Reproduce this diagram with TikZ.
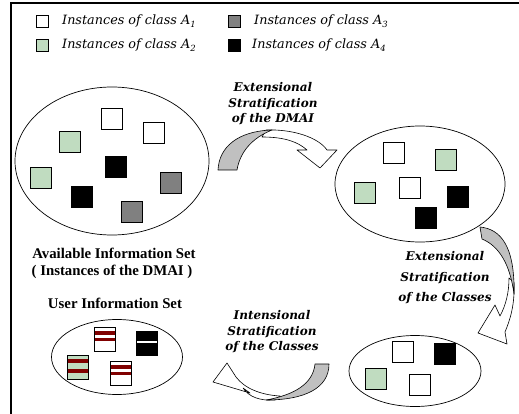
\documentclass[tikz,border=0pt]{standalone}
\usepackage{fontspec}
\setmainfont{DejaVu Serif}
\newfontfamily\capfont{Liberation Serif}
\usetikzlibrary{shapes.geometric}
\definecolor{grn}{HTML}{C0DCC0}
\definecolor{dgray}{HTML}{808080}
\definecolor{agray}{HTML}{C0C0C0}
\definecolor{dred}{HTML}{800000}
\newcommand\lsub[1]{\raisebox{-0.4ex}{\fontsize{8.5}{8.5}\selectfont #1}}
\begin{document}
\begin{tikzpicture}[x=1pt,y=-1pt,
  sq/.style={draw=black,line width=0.8pt,minimum width=21pt,minimum height=21pt,inner sep=0pt,outer sep=0pt},
  wsq/.style={sq,fill=white},
  gsq/.style={sq,fill=grn},
  dsq/.style={sq,fill=dgray},
  bsq/.style={sq,fill=black},
  ssq/.style={draw=black,line width=0.8pt,minimum width=21pt,minimum height=24pt,inner sep=0pt,outer sep=0pt},
  wstr/.style={ssq,fill=white,path picture={
    \fill[dred] ([yshift=-4pt]path picture bounding box.north west) rectangle ([yshift=-7.5pt]path picture bounding box.north east);
    \fill[dred] ([yshift=-10.5pt]path picture bounding box.north west) rectangle ([yshift=-14pt]path picture bounding box.north east);}},
  gstr/.style={ssq,fill=grn,path picture={
    \fill[dred] ([yshift=-4pt]path picture bounding box.north west) rectangle ([yshift=-7.5pt]path picture bounding box.north east);
    \fill[dred] ([yshift=-14pt]path picture bounding box.north west) rectangle ([yshift=-17.5pt]path picture bounding box.north east);}},
  bstr/.style={ssq,fill=black,path picture={
    \fill[white] ([yshift=-10pt]path picture bounding box.north west) rectangle ([yshift=-12pt]path picture bounding box.north east);}},
  lsq/.style={draw=black,line width=0.6pt,minimum size=12pt,inner sep=0pt},
  legtxt/.style={anchor=west,inner sep=0pt,font=\fontsize{12.8}{14}\selectfont\itshape},
  set/.style={draw=black,line width=0.7pt,ellipse,inner sep=0pt},
  captxt/.style={font=\capfont\bfseries\fontsize{14.8}{17}\selectfont,inner sep=0pt},
  steplab/.style={font=\fontsize{12}{15.5}\selectfont\bfseries\itshape,inner sep=0pt,align=center},
  rib/.style={fill=agray,draw=black,line width=0.6pt,line join=round},
  ribw/.style={fill=white,draw=black,line width=0.6pt,line join=round}
]
\path[use as bounding box] (0,0) rectangle (519,414);
% frame
\draw[line width=1.6pt] (11,414) -- (11,3) -- (519,3);

% legend
\node[lsq,fill=white] (k1) at (42,21) {};
\node[legtxt] (t1) at (62,21) {Instances of class A\lsub{1}};
\node[lsq,fill=dgray] (k3) at (234,21) {};
\node[legtxt] (t3) at (254,21) {Instances of class A\lsub{3}};
\node[lsq,fill=grn] (k2) at (42,45) {};
\node[legtxt] (t2) at (62,45) {Instances of class A\lsub{2}};
\node[lsq,fill=black] (k4) at (234,45) {};
\node[legtxt] (t4) at (252,45) {Instances of class A\lsub{4}};

% sets
\node[set,minimum width=194pt,minimum height=148pt] (avail) at (112,161) {};
\node[set,minimum width=170pt,minimum height=116pt] (ext1) at (420,184) {};
\node[set,minimum width=132pt,minimum height=71pt] (ext2) at (415,371) {};
\node[set,minimum width=131pt,minimum height=75pt] (user) at (117,357) {};

% squares in available set
\node[wsq] (a1) at (112,119) {};
\node[wsq] (a2) at (154,133) {};
\node[gsq] (a3) at (70,142) {};
\node[bsq] (a4) at (116,167) {};
\node[gsq] (a5) at (41,178) {};
\node[dsq] (a6) at (171,183) {};
\node[bsq] (a7) at (82,197) {};
\node[dsq] (a8) at (132,212) {};

% squares in first stratified set
\node[wsq] (b1) at (394,153) {};
\node[gsq] (b2) at (446,160) {};
\node[gsq] (b3) at (365,193) {};
\node[wsq] (b4) at (410,188) {};
\node[bsq] (b5) at (458,197) {};
\node[bsq] (b6) at (426,218) {};

% squares in second stratified set
\node[wsq] (c1) at (403,352) {};
\node[bsq] (c2) at (445,354) {};
\node[gsq] (c3) at (376,379) {};
\node[wsq] (c4) at (420,385) {};

% user information set
\node[wstr] (u1) at (105,339) {};
\node[bstr] (u2) at (147,343) {};
\node[gstr] (u3) at (78,367) {};
\node[wstr] (u4) at (121,373) {};

% captions
\node[captxt] (cap1) at (114,253) {Available Information Set};
\node[captxt] (cap2) at (112,272) {( Instances of the DMAI )};
\node[captxt] (cap3) at (115,303) {User Information Set};

% step labels
\node[steplab] (l1) at (273,104) {Extensional\\Stratification\\of the DMAI};
\node[steplab,font=\fontsize{12}{20.5}\selectfont\bfseries\itshape] (l2) at (445,278) {Extensional\\Stratification\\of the Classes};
\node[steplab] (l3) at (272,332) {Intensional\\Stratification\\of the Classes};

% top ribbon arrow
\path[ribw] (266,130) .. controls (292,129) and (318,137) .. (327,150) -- (337,150) -- (320,168) -- (297,150) -- (307,150) .. controls (298,142) and (285,137) .. (262,137) -- cycle;
\path[rib] (218,170) .. controls (219,147) and (238,131) .. (272,130) .. controls (252,138) and (240,152) .. (237,170) -- cycle;

% right ribbon arrow
\path[ribw] (514,282) .. controls (515,305) and (510,320) .. (505,332) -- (507,344) -- (478,333) -- (495,305) -- (500,316) .. controls (506,305) and (509,292) .. (509,278) -- cycle;
\path[rib] (480,227) .. controls (500,229) and (515,245) .. (514,294) .. controls (510,264) and (499,246) .. (482,239) -- cycle;

% bottom ribbon arrow
\path[ribw] (275,400) .. controls (260,401) and (249,397) .. (243,388) -- (250,393) -- (213,382) -- (227,363) -- (236,377) .. controls (245,389) and (262,395) .. (280,396) -- cycle;
\path[rib] (315,364) -- (329,364) .. controls (329,388) and (305,400) .. (266,400) .. controls (294,395) and (313,384) .. (315,364) -- cycle;
\end{tikzpicture}
\end{document}
